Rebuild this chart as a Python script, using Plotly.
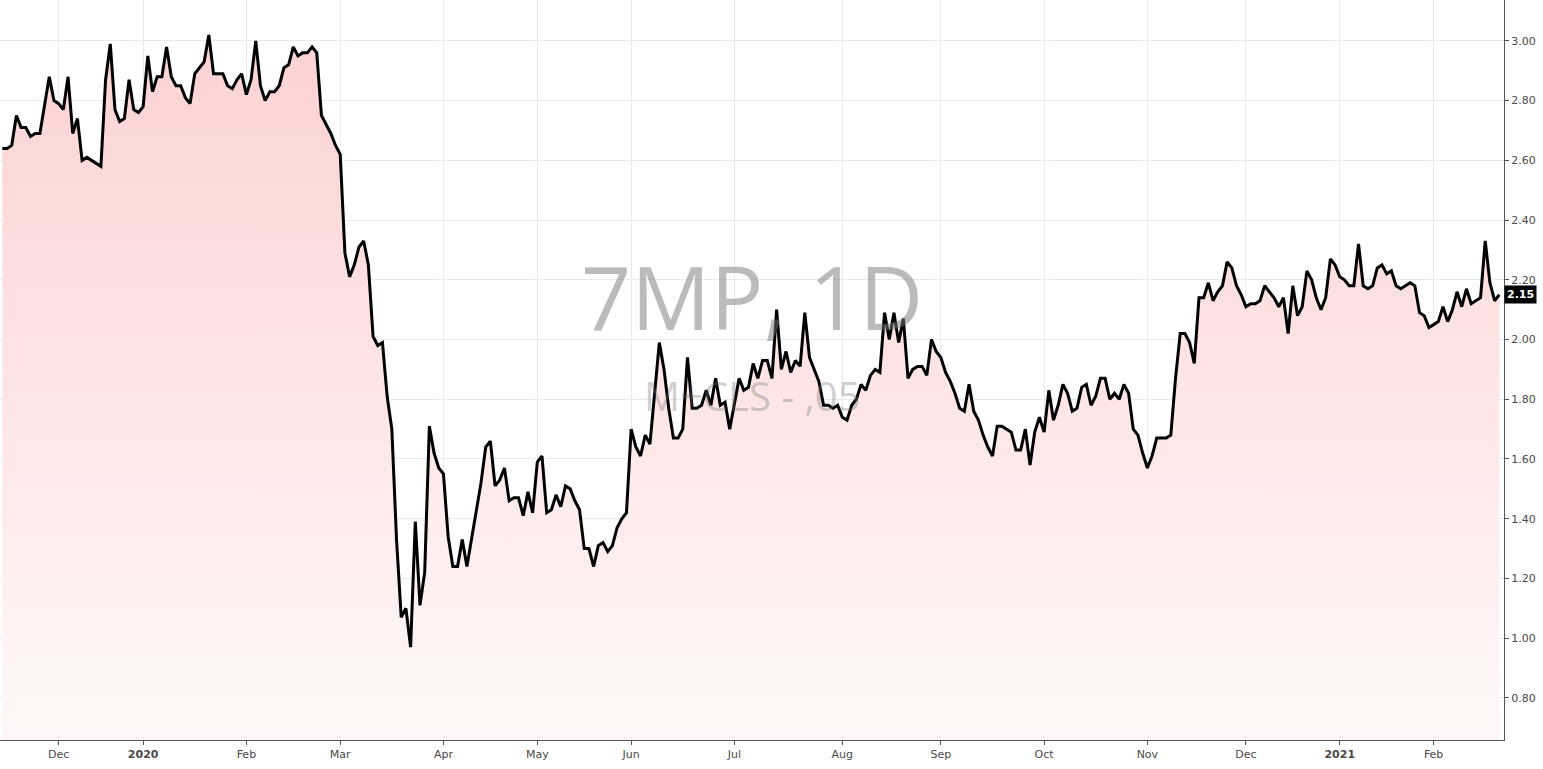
import pandas as pd
import plotly.graph_objects as go

# closing prices, one per Xetra trading day, Nov 2019 -> Feb 2021
prices = [
    2.64, 2.64, 2.65, 2.75, 2.71, 2.71, 2.68, 2.69, 2.69, 2.78, 2.88, 2.80, 2.79, 2.77,
    2.88, 2.69, 2.74, 2.60, 2.61, 2.60, 2.59, 2.58, 2.87, 2.99, 2.77, 2.73, 2.74, 2.87,
    2.77, 2.76, 2.78, 2.95, 2.83, 2.88, 2.88, 2.98, 2.88, 2.85, 2.85, 2.81, 2.79, 2.89,
    2.91, 2.93, 3.02, 2.89, 2.89, 2.89, 2.85, 2.84, 2.87, 2.89, 2.82, 2.87, 3.00, 2.85,
    2.80, 2.83, 2.83, 2.85, 2.91, 2.92, 2.98, 2.95, 2.96, 2.96, 2.98, 2.96, 2.75, 2.72,
    2.69, 2.65, 2.62, 2.29, 2.21, 2.25, 2.31, 2.33, 2.25, 2.01, 1.98, 1.99, 1.81, 1.70,
    1.33, 1.07, 1.10, 0.97, 1.39, 1.11, 1.22, 1.71, 1.62, 1.57, 1.55, 1.34, 1.24,
    1.24, 1.33, 1.24, 1.33, 1.42, 1.52, 1.64, 1.66, 1.51, 1.53, 1.57, 1.46, 1.47, 1.47,
    1.41, 1.49, 1.42, 1.59, 1.61, 1.42, 1.43, 1.48, 1.44, 1.51, 1.50, 1.46, 1.43, 1.30,
    1.30, 1.24, 1.31, 1.32, 1.29, 1.31, 1.37, 1.40, 1.42, 1.70, 1.64, 1.61, 1.68, 1.65,
    1.82, 1.99, 1.90, 1.77, 1.67, 1.67, 1.70, 1.94, 1.77, 1.77, 1.78, 1.83, 1.78, 1.87,
    1.78, 1.79, 1.70, 1.79, 1.87, 1.83, 1.84, 1.92, 1.87, 1.93, 1.93, 1.87, 2.10, 1.90,
    1.96, 1.89, 1.93, 1.91, 2.09, 1.94, 1.90, 1.86, 1.78, 1.78, 1.77, 1.78, 1.74, 1.73,
    1.78, 1.80, 1.85, 1.83, 1.88, 1.90, 1.89, 2.09, 2.00, 2.09, 1.99, 2.07, 1.87, 1.90,
    1.91, 1.91, 1.88, 2.00, 1.96, 1.94, 1.89, 1.86, 1.82, 1.77, 1.76, 1.85, 1.76, 1.73,
    1.68, 1.64, 1.61, 1.71, 1.71, 1.70, 1.69, 1.63, 1.63, 1.70, 1.58, 1.69, 1.74, 1.69,
    1.83, 1.73, 1.78, 1.85, 1.82, 1.76, 1.77, 1.84, 1.85, 1.78, 1.81, 1.87, 1.87, 1.80,
    1.82, 1.80, 1.85, 1.82, 1.70, 1.68, 1.62, 1.57, 1.61, 1.67, 1.67, 1.67, 1.68, 1.87,
    2.02, 2.02, 1.99, 1.92, 2.14, 2.14, 2.19, 2.13, 2.16, 2.18, 2.26, 2.24, 2.18, 2.15,
    2.11, 2.12, 2.12, 2.13, 2.18, 2.16, 2.14, 2.11, 2.14, 2.02, 2.18, 2.08, 2.11, 2.23,
    2.20, 2.14, 2.10, 2.14, 2.27, 2.25, 2.21, 2.20, 2.18, 2.18, 2.32, 2.18, 2.17, 2.18,
    2.24, 2.25, 2.22, 2.23, 2.18, 2.17, 2.18, 2.19, 2.18, 2.09, 2.08, 2.04, 2.05, 2.06,
    2.11, 2.06, 2.10, 2.16, 2.11, 2.17, 2.12, 2.13, 2.14, 2.33, 2.19, 2.13, 2.15,
]

holidays = ["2019-12-24", "2019-12-25", "2019-12-26", "2019-12-31", "2020-01-01",
            "2020-04-10", "2020-04-13", "2020-05-01", "2020-12-24", "2020-12-25",
            "2020-12-31", "2021-01-01"]

month_ticks = ["2019-12-02", "2020-01-02", "2020-02-03", "2020-03-02", "2020-04-01",
               "2020-05-04", "2020-06-01", "2020-07-01", "2020-08-03", "2020-09-01",
               "2020-10-01", "2020-11-02", "2020-12-01", "2021-01-04", "2021-02-01"]
month_labels = ["Dec", "<b>2020</b>", "Feb", "Mar", "Apr", "May", "Jun", "Jul", "Aug",
                "Sep", "Oct", "Nov", "Dec", "<b>2021</b>", "Feb"]

y_ticks = [0.8, 1.0, 1.2, 1.4, 1.6, 1.8, 2.0, 2.2, 2.4, 2.6, 2.8, 3.0]
y_labels = ["%.2f" % v for v in y_ticks]

days = pd.bdate_range(end="2021-02-19", periods=len(prices) + 40)
days = days[~days.isin(pd.to_datetime(holidays))][-len(prices):]

fig = go.Figure()
fig.add_trace(go.Scatter(
    x=days, y=prices, mode="lines",
    line=dict(color="black", width=3),
    fill="tozeroy",
    fillgradient=dict(type="vertical", colorscale=[
        [0, "rgba(255,255,255,1)"], [0.3, "rgba(255,244,244,1)"],
        [1, "rgba(252,210,210,1)"]]),
    hoverinfo="skip",
))

fig.add_annotation(text="7MP, 1D", xref="paper", yref="paper", x=0.5, y=0.6,
                   showarrow=False, font=dict(size=88, color="rgba(120,120,120,0.5)",
                                              family="Open Sans"))
fig.add_annotation(text="M+CLS - ,05", xref="paper", yref="paper", x=0.5, y=0.465,
                   showarrow=False, font=dict(size=40, color="rgba(120,120,120,0.35)",
                                              family="Open Sans"))
fig.add_annotation(text="<b>2.15</b>", xref="paper", yref="y", x=1.0, y=prices[-1],
                   xanchor="left", showarrow=False, bgcolor="black",
                   font=dict(size=11, color="white"), borderpad=2)

fig.update_xaxes(
    rangebreaks=[dict(bounds=["sat", "mon"]), dict(values=holidays)],
    range=[days[0] - pd.Timedelta(hours=12), days[-1] + pd.Timedelta(days=1)],
    tickvals=month_ticks, ticktext=month_labels, automargin=False,
    showgrid=True, gridcolor="#e6ebf0", showline=True, linecolor="#555",
    ticks="outside", ticklen=4, tickcolor="#555", zeroline=False,
    tickfont=dict(size=11, color="#4a4a4a"),
)
fig.update_yaxes(
    side="right", range=[0.659, 3.137], tickvals=y_ticks, ticktext=y_labels,
    automargin=False,
    showgrid=True, gridcolor="#e6ebf0", showline=True, linecolor="#555",
    ticks="outside", ticklen=4, tickcolor="#555", zeroline=False,
    tickfont=dict(size=11, color="#4a4a4a"),
)
fig.update_layout(
    width=1543, height=769, margin=dict(l=0, r=39, t=0, b=29),
    plot_bgcolor="white", paper_bgcolor="white", showlegend=False,
    font=dict(family="DejaVu Sans"),
)
fig.write_html("out.html", config={"displayModeBar": False},
               post_script="document.body.style.margin='0';")
